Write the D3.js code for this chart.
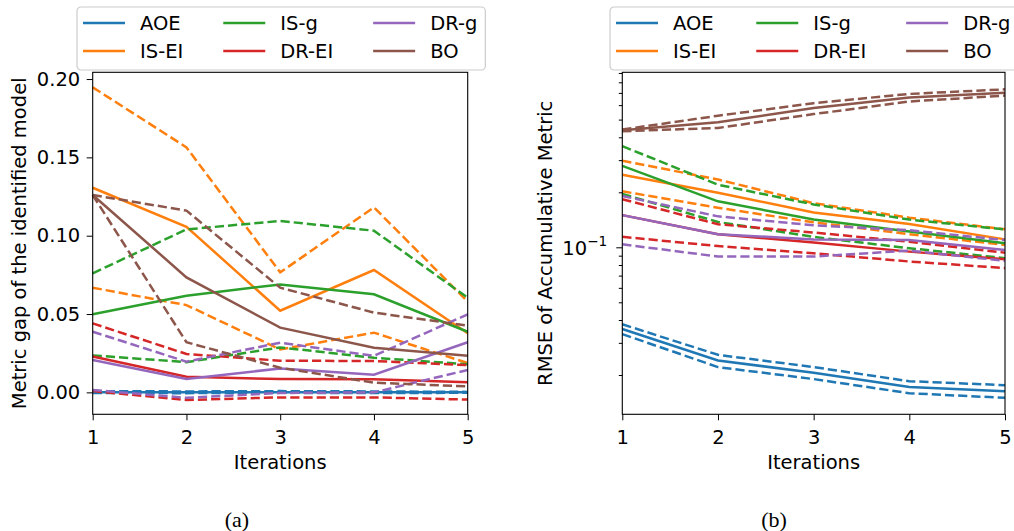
<!DOCTYPE html>
<html>
<head>
<meta charset="utf-8">
<script src="https://cdn.jsdelivr.net/npm/d3@7"></script>
<style>
  body { margin: 0; background: #fff; }
  svg text { font-family: "DejaVu Sans", sans-serif; fill: #000; }
</style>
</head>
<body>
<div id="chart"></div>
<script>
// DATA
const iterations = [1, 2, 3, 4, 5];
const methods = ["AOE", "IS-EI", "IS-g", "DR-EI", "DR-g", "BO"];
const colors = ["#1f77b4", "#ff7f0e", "#2ca02c", "#d62728", "#9467bd", "#8c564b"];

// (a) metric gap, one row per method (same order as methods)
const gapMean = [
    [0, 0, 0, 0, 0],
    [0.1306, 0.1057, 0.0521, 0.0781, 0.0377],
    [0.0498, 0.0617, 0.0689, 0.0626, 0.0387],
    [0.0229, 0.0100, 0.0085, 0.0083, 0.0065],
    [0.0206, 0.0085, 0.0153, 0.0113, 0.0320],
    [0.1260, 0.0734, 0.0413, 0.0285, 0.0234]
];
const gapUpper = [
    [0.0008, 0.0006, 0.0008, 0.0006, 0.0003],
    [0.1947, 0.1564, 0.0766, 0.1181, 0.0579],
    [0.0760, 0.1040, 0.1094, 0.1032, 0.0604],
    [0.0440, 0.0245, 0.0202, 0.0200, 0.0174],
    [0.0387, 0.0196, 0.0317, 0.0233, 0.0498],
    [0.1260, 0.1160, 0.0668, 0.0509, 0.0426]
];
const gapLower = [
    [-0.0004, -0.0005, -0.0003, -0.0004, -0.0003],
    [0.0668, 0.0557, 0.0274, 0.0381, 0.0187],
    [0.0236, 0.0193, 0.0287, 0.0221, 0.0179],
    [0.0008, -0.0049, -0.0032, -0.0032, -0.0046],
    [0.0015, -0.0035, -0.0004, 0.0000, 0.0143],
    [0.1260, 0.0320, 0.0157, 0.0062, 0.0038]
];
const gapTicks = [0, 0.05, 0.10, 0.15, 0.20];

// (b) RMSE of accumulative metric (log scale)
const rmseMean = [
    [0.0357, 0.0240, 0.0206, 0.0172, 0.0163],
    [0.2495, 0.1990, 0.1550, 0.1340, 0.1105],
    [0.2790, 0.1785, 0.1420, 0.1220, 0.1051],
    [0.1500, 0.1180, 0.1064, 0.0947, 0.0861],
    [0.1500, 0.1180, 0.1105, 0.1095, 0.0967],
    [0.4377, 0.4830, 0.5780, 0.6600, 0.7020]
];
const rmseUpper = [
    [0.0379, 0.0258, 0.0221, 0.0185, 0.0176],
    [0.2980, 0.2350, 0.1744, 0.1453, 0.1255],
    [0.3580, 0.2200, 0.1716, 0.1418, 0.1252],
    [0.1833, 0.1337, 0.1205, 0.1072, 0.0935],
    [0.1910, 0.1477, 0.1320, 0.1240, 0.1095],
    [0.4410, 0.5250, 0.6150, 0.6910, 0.7320]
];
const rmseLower = [
    [0.0335, 0.0221, 0.0190, 0.0159, 0.0150],
    [0.2025, 0.1646, 0.1370, 0.1180, 0.1030],
    [0.1960, 0.1376, 0.1140, 0.0988, 0.0872],
    [0.1141, 0.1016, 0.0928, 0.0836, 0.0770],
    [0.1038, 0.0890, 0.0890, 0.0959, 0.0843],
    [0.4320, 0.4500, 0.5360, 0.6280, 0.6770]
];
const rmseMajor = [0.1];
const rmseMinor = [0.02, 0.03, 0.04, 0.05, 0.06, 0.07, 0.08, 0.09,
                   0.2, 0.3, 0.4, 0.5, 0.6, 0.7, 0.8, 0.9];

// LAYOUT
const W = 1014, H = 531;
const FONT = 19.5;
const plotTop = 72.3, plotBottom = 414.3;

const svg = d3.select("#chart")
    .append("svg")
    .attr("width", W)
    .attr("height", H);

const panels = [
    {
        left: 92.7, right: 467.7,
        y: d3.scaleLinear().domain([-0.014, 0.2043]).range([plotBottom, plotTop]),
        mean: gapMean, upper: gapUpper, lower: gapLower,
        ylabel: "Metric gap of the identified model", ylabelX: 19,
        caption: "(a)", captionX: 237, legendX: 77
    },
    {
        left: 622.3, right: 1005,
        y: d3.scaleLog().domain([0.01219, 0.9075]).range([plotBottom, plotTop]),
        mean: rmseMean, upper: rmseUpper, lower: rmseLower,
        ylabel: "RMSE of Accumulative Metric", ylabelX: 545,
        caption: "(b)", captionX: 774, legendX: 610
    }
];

panels.forEach((p, pi) => {
    const g = svg.append("g");

    const x = d3.scaleLinear()
        .domain([1, 5])
        .range([p.left, p.right]);
    const y = p.y;

    const line = d3.line()
        .x((d, i) => x(iterations[i]))
        .y(d => y(d));

    // LINES
    methods.forEach((m, mi) => {
        g.append("path")
            .attr("d", line(p.mean[mi]))
            .attr("fill", "none")
            .attr("stroke", colors[mi])
            .attr("stroke-width", 2.5);
        [p.upper[mi], p.lower[mi]].forEach(vals => {
            g.append("path")
                .attr("d", line(vals))
                .attr("fill", "none")
                .attr("stroke", colors[mi])
                .attr("stroke-width", 2.5)
                .attr("stroke-dasharray", "9.2,4");
        });
    });

    // X AXIS
    const xAxis = g.append("g")
        .attr("transform", `translate(0,${plotBottom})`)
        .call(d3.axisBottom(x).tickValues(iterations).tickFormat(d3.format("d"))
            .tickSize(6).tickSizeOuter(0).tickPadding(10));
    xAxis.select(".domain").remove();
    xAxis.selectAll("text").attr("font-size", FONT).attr("font-family", null);

    // Y AXIS
    if (pi === 0) {
        const yAxis = g.append("g")
            .attr("transform", `translate(${p.left},0)`)
            .call(d3.axisLeft(y).tickValues(gapTicks).tickFormat(d3.format(".2f"))
                .tickSize(6).tickSizeOuter(0).tickPadding(6.5));
        yAxis.select(".domain").remove();
        yAxis.selectAll("text").attr("font-size", FONT).attr("font-family", null);
    } else {
        const minor = g.append("g")
            .attr("transform", `translate(${p.left},0)`)
            .call(d3.axisLeft(y).tickValues(rmseMinor.filter(v => v > y.domain()[0] && v < y.domain()[1]))
                .tickFormat("").tickSize(3.5).tickSizeOuter(0));
        minor.select(".domain").remove();
        const major = g.append("g")
            .attr("transform", `translate(${p.left},0)`)
            .call(d3.axisLeft(y).tickValues(rmseMajor).tickFormat("")
                .tickSize(6).tickSizeOuter(0));
        major.select(".domain").remove();
        rmseMajor.forEach(v => {
            const exp = Math.round(Math.log10(v));
            const t = g.append("text")
                .attr("x", p.left - 15)
                .attr("y", y(v) + 8)
                .attr("text-anchor", "end")
                .attr("font-size", FONT);
            t.append("tspan").text("10");
            t.append("tspan")
                .attr("font-size", FONT * 0.7)
                .attr("dy", -9)
                .text("\u2212" + Math.abs(exp));
        });
    }

    // FRAME
    g.append("rect")
        .attr("x", p.left)
        .attr("y", plotTop)
        .attr("width", p.right - p.left)
        .attr("height", plotBottom - plotTop)
        .attr("fill", "none")
        .attr("stroke", "#000")
        .attr("stroke-width", 1.1);

    // AXIS LABELS
    g.append("text")
        .attr("x", (p.left + p.right) / 2)
        .attr("y", 469)
        .attr("text-anchor", "middle")
        .attr("font-size", FONT)
        .text("Iterations");

    g.append("text")
        .attr("transform", `translate(${p.ylabelX},${(plotTop + plotBottom) / 2}) rotate(-90)`)
        .attr("dy", "0.35em")
        .attr("text-anchor", "middle")
        .attr("font-size", FONT)
        .text(p.ylabel);

    // CAPTION
    g.append("text")
        .attr("x", p.captionX)
        .attr("y", 527)
        .attr("text-anchor", "middle")
        .attr("font-size", 22)
        .style("font-family", "'Liberation Serif', 'Times New Roman', serif")
        .text(p.caption);

    // LEGEND (3 columns, filled column by column)
    const leg = g.append("g").attr("transform", `translate(${p.legendX},7)`);
    const frame = leg.append("rect")
        .attr("width", 406)
        .attr("height", 63)
        .attr("rx", 4)
        .attr("fill", "#fff")
        .attr("stroke", "#cccccc")
        .attr("stroke-width", 1.2);

    const handleLen = 42, textPad = 15, colGap = 40;
    let colX = 6;
    for (let c = 0; c < 3; c++) {
        let maxW = 0;
        for (let r = 0; r < 2; r++) {
            const mi = c * 2 + r;
            const cy = 16 + r * 28;
            leg.append("line")
                .attr("x1", colX).attr("x2", colX + handleLen)
                .attr("y1", cy).attr("y2", cy)
                .attr("stroke", colors[mi])
                .attr("stroke-width", 2.5);
            const t = leg.append("text")
                .attr("x", colX + handleLen + textPad)
                .attr("y", cy + 7)
                .attr("font-size", FONT)
                .text(methods[mi]);
            maxW = Math.max(maxW, t.node().getComputedTextLength());
        }
        if (c < 2) colX += handleLen + textPad + maxW + colGap;
        else frame.attr("width", colX + handleLen + textPad + maxW + 8);
    }
});
</script>
</body>
</html>
